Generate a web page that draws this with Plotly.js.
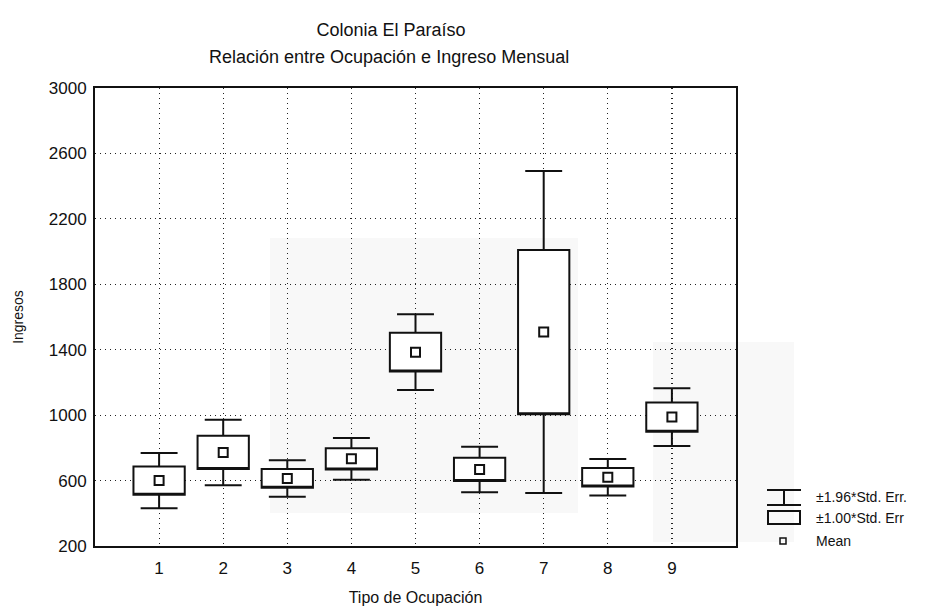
<!DOCTYPE html>
<html>
<head>
<meta charset="utf-8">
<script src="https://cdn.plot.ly/plotly-3.0.1.min.js"></script>
<style>
  html, body { margin: 0; padding: 0; background: #fff; }
  #chart { width: 947px; height: 607px; }
</style>
</head>
<body>
<div id="chart"></div>
<script>
// Tipo de ocupación (categorías del eje X)
const categories = [1, 2, 3, 4, 5, 6, 7, 8, 9];
// Ingreso mensual medio por tipo de ocupación
const means = [600, 772, 613, 733, 1385, 668, 1508, 620, 988];
// Error estándar de la media
const stdErr = [86, 102, 57, 65, 118, 71, 502, 57, 90];
// Marcas del eje Y
const yTicks = [200, 600, 1000, 1400, 1800, 2200, 2600, 3000];

// Caja = media ± 1.00*EE, bigotes = media ± 1.96*EE
const boxLow = means.map((m, i) => m - 1.00 * stdErr[i]);
const boxHigh = means.map((m, i) => m + 1.00 * stdErr[i]);
const whiskLow = means.map((m, i) => m - 1.96 * stdErr[i]);
const whiskHigh = means.map((m, i) => m + 1.96 * stdErr[i]);

const FONT = 'Liberation Sans, Arial, sans-serif';

const boxTrace = {
  type: 'box',
  x: categories,
  q1: boxLow,
  median: boxLow,
  q3: boxHigh,
  lowerfence: whiskLow,
  upperfence: whiskHigh,
  width: 0.8,
  whiskerwidth: 0.72,
  fillcolor: '#ffffff',
  line: { color: '#111111', width: 2 },
  boxpoints: false,
  hoverinfo: 'skip',
  showlegend: false
};

const meanTrace = {
  type: 'scatter',
  mode: 'markers',
  x: categories,
  y: means,
  marker: { symbol: 'square-open', size: 9, color: '#111111', line: { width: 2, color: '#111111' } },
  hoverinfo: 'skip',
  showlegend: false
};

// Plot area in pixels: l=95, r=736, t=88, b=546
const L = 95, R = 736, T = 88, B = 546;
const px = v => (v - L) / (R - L);
const py = v => (B - v) / (B - T);

const shapes = [
  // faint grey patches in the background
  { type: 'rect', xref: 'paper', yref: 'paper', layer: 'below',
    x0: px(270), x1: px(578), y0: py(513), y1: py(238),
    fillcolor: '#f8f8f8', line: { width: 0 } },
  { type: 'rect', xref: 'paper', yref: 'paper', layer: 'below',
    x0: px(653), x1: px(794), y0: py(542), y1: py(342),
    fillcolor: '#f8f8f8', line: { width: 0 } },
  // legend: whisker symbol
  { type: 'line', xref: 'paper', yref: 'paper', x0: px(767), x1: px(801), y0: py(490), y1: py(490), line: { color: '#111', width: 2 } },
  { type: 'line', xref: 'paper', yref: 'paper', x0: px(784), x1: px(784), y0: py(490), y1: py(505), line: { color: '#111', width: 2 } },
  { type: 'line', xref: 'paper', yref: 'paper', x0: px(767), x1: px(801), y0: py(505), y1: py(505), line: { color: '#111', width: 2 } },
  // legend: box symbol
  { type: 'rect', xref: 'paper', yref: 'paper', x0: px(768), x1: px(800), y0: py(524), y1: py(511), line: { color: '#111', width: 2 }, fillcolor: 'rgba(0,0,0,0)' },
  // legend: mean symbol
  { type: 'rect', xref: 'paper', yref: 'paper', x0: px(780), x1: px(786), y0: py(544), y1: py(538), line: { color: '#111', width: 1.5 }, fillcolor: 'rgba(0,0,0,0)' }
];

const legendText = (text, y) => ({
  xref: 'paper', yref: 'paper', x: px(814), y: py(y), xanchor: 'left', yanchor: 'middle',
  text: text, showarrow: false, font: { family: FONT, size: 14, color: '#111' }
});

const annotations = [
  { xref: 'paper', yref: 'paper', x: px(389), y: py(57), xanchor: 'center', yanchor: 'middle',
    text: 'Relación entre Ocupación e Ingreso Mensual', showarrow: false,
    font: { family: FONT, size: 18, color: '#111' } },
  legendText('±1.96*Std. Err.', 497),
  legendText('±1.00*Std. Err', 518),
  legendText('Mean', 541)
];

const layout = {
  width: 947,
  height: 607,
  margin: { l: L, r: 947 - R, t: T, b: 607 - B },
  paper_bgcolor: '#ffffff',
  plot_bgcolor: 'rgba(0,0,0,0)',
  font: { family: FONT, size: 14, color: '#111' },
  title: {
    text: 'Colonia El Paraíso',
    x: 391 / 947, xanchor: 'center',
    y: 1 - 30 / 607, yanchor: 'middle', yref: 'container',
    font: { family: FONT, size: 18, color: '#111' }
  },
  xaxis: {
    range: [0, 10],
    tickvals: categories,
    ticktext: categories.map(String),
    showgrid: true,
    gridcolor: '#222222',
    griddash: '1px,4px',
    gridwidth: 1.2,
    zeroline: false,
    showline: true,
    linecolor: '#111111',
    linewidth: 2,
    mirror: true,
    ticks: '',
    ticklabelstandoff: 6,
    tickfont: { family: FONT, size: 17, color: '#111' },
    title: { text: 'Tipo de Ocupación', font: { family: FONT, size: 16, color: '#111' }, standoff: 14 }
  },
  yaxis: {
    range: [200, 3000],
    tickvals: yTicks,
    ticktext: yTicks.map(String),
    showgrid: true,
    gridcolor: '#222222',
    griddash: '1px,4px',
    gridwidth: 1.2,
    zeroline: false,
    showline: true,
    linecolor: '#111111',
    linewidth: 2,
    mirror: true,
    ticks: '',
    ticklabelstandoff: 3,
    tickfont: { family: FONT, size: 17, color: '#111' },
    title: { text: 'Ingresos', font: { family: FONT, size: 14, color: '#111' }, standoff: 22 }
  },
  shapes: shapes,
  annotations: annotations,
  showlegend: false,
  hovermode: false
};

Plotly.newPlot('chart', [boxTrace, meanTrace], layout, { displayModeBar: false, staticPlot: true });
</script>
</body>
</html>
